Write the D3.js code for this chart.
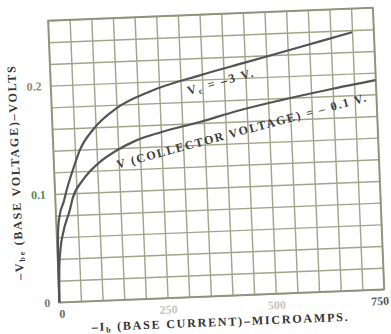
<!DOCTYPE html>
<html>
<head>
<meta charset="utf-8">
<script src="https://cdn.jsdelivr.net/npm/d3@7"></script>
<style>
  html, body { margin: 0; padding: 0; background: #fff; }
  svg { display: block; }
  text { font-family: "Liberation Serif", "DejaVu Serif", serif; font-weight: bold; }
</style>
</head>
<body>
<div id="chart"></div>
<script>
// base current (microamps) vs base voltage (volts), two collector voltages
const currentA = [0, 1, 4, 10, 19, 28, 44, 62, 94, 151, 229, 345, 450, 575, 700];
const voltsA   = [0, 0.03, 0.067, 0.082, 0.092, 0.104, 0.122, 0.140, 0.158, 0.177, 0.191, 0.204, 0.214, 0.226, 0.238];
const currentB = [0, 3, 8, 16, 33, 41, 66, 107, 147, 190, 250, 341, 430, 528, 640, 750];
const voltsB   = [0, 0.03, 0.05, 0.065, 0.085, 0.096, 0.112, 0.128, 0.138, 0.146, 0.153, 0.161, 0.170, 0.178, 0.186, 0.193];

const xTickValues = [0, 250, 500, 750];
const xTickLabels = ['0', '250', '500', '750'];
const yTickValues = [0, 0.1, 0.2];
const yTickLabels = ['0', '0.1', '0.2'];

const width = 391, height = 334;
const plotLeft = 53.5, plotTop = 14, plotW = 325, plotH = 282;

const svg = d3.select('#chart').append('svg')
  .attr('width', width)
  .attr('height', height);

// the scan is tilted a little, so everything sits in one rotated group
const g = svg.append('g')
  .attr('transform', 'rotate(-2.3,216,155)');

const x = d3.scaleLinear().domain([0, 750]).range([plotLeft, plotLeft + plotW]);
const y = d3.scaleLinear().domain([0, 0.26]).range([plotTop + plotH, plotTop]);

// grid
g.append('g')
  .attr('transform', `translate(0,${plotTop + plotH})`)
  .call(d3.axisBottom(x).tickValues(d3.range(0, 751, 50)).tickSize(-plotH).tickFormat(''))
  .call(s => s.select('.domain').remove())
  .selectAll('line').attr('stroke', '#a2a488').attr('stroke-width', 1.4);
g.append('g')
  .attr('transform', `translate(${plotLeft},0)`)
  .call(d3.axisLeft(y).tickValues(d3.range(0, 0.261, 0.02)).tickSize(-plotW).tickFormat(''))
  .call(s => s.select('.domain').remove())
  .selectAll('line').attr('stroke', '#a2a488').attr('stroke-width', 1.4);

g.append('rect')
  .attr('x', plotLeft).attr('y', plotTop)
  .attr('width', plotW).attr('height', plotH)
  .attr('fill', 'none')
  .attr('stroke', '#8f927a')
  .attr('stroke-width', 1.6);

// tick labels
const xAxis = g.append('g')
  .attr('transform', `translate(0,${plotTop + plotH})`)
  .call(d3.axisBottom(x).tickValues(xTickValues).tickSize(0).tickPadding(7)
    .tickFormat((d, i) => xTickLabels[i]));
xAxis.select('.domain').remove();
xAxis.selectAll('text')
  .attr('font-size', 12)
  .attr('font-family', '"Liberation Serif", serif')
  .attr('dx', (d, i) => i === 3 ? -5 : (i === 0 ? 2 : 0))
  .attr('fill', (d, i) => ['#666', '#c4c4c0', '#c4c4c0', '#555'][i]);

const yAxis = g.append('g')
  .attr('transform', `translate(${plotLeft},0)`)
  .call(d3.axisLeft(y).tickValues(yTickValues).tickSize(0).tickPadding(9)
    .tickFormat((d, i) => yTickLabels[i]));
yAxis.select('.domain').remove();
yAxis.selectAll('text')
  .attr('font-size', 12)
  .attr('font-family', '"Liberation Serif", serif')
  .attr('fill', (d, i) => ['#777', '#4f8a58', '#8a8c70'][i]);

// curves
const line = d3.line()
  .x(d => x(d[0]))
  .y(d => y(d[1]))
  .curve(d3.curveMonotoneX);

[[currentA, voltsA], [currentB, voltsB]].forEach(([xs, ys]) => {
  g.append('path')
    .datum(xs.map((v, i) => [v, ys[i]]))
    .attr('d', line)
    .attr('fill', 'none')
    .attr('stroke', '#545454')
    .attr('stroke-width', 2.2);
});

// curve labels
const la = g.append('text')
  .attr('transform', 'translate(224,86) rotate(-13.3)')
  .attr('text-anchor', 'middle')
  .attr('font-size', 12.5)
  .attr('fill', '#444')
  .attr('textLength', 68)
  .attr('lengthAdjust', 'spacing');
la.append('tspan').text('V');
la.append('tspan').attr('font-size', 8).attr('dy', 2).text('c');
la.append('tspan').attr('dy', -2).text(' = \u20133 V.');

g.append('text')
  .attr('transform', 'translate(243,136) rotate(-12.8)')
  .attr('text-anchor', 'middle')
  .attr('font-size', 12)
  .attr('fill', '#3a3a3a')
  .attr('textLength', 258)
  .attr('lengthAdjust', 'spacing')
  .text('V (COLLECTOR VOLTAGE) = \u2013 0.1 V.');

// axis titles
const xt = g.append('text')
  .attr('x', 213).attr('y', 326)
  .attr('text-anchor', 'middle')
  .attr('font-size', 12)
  .attr('fill', '#333')
  .attr('textLength', 256)
  .attr('lengthAdjust', 'spacing');
xt.append('tspan').text('\u2013I');
xt.append('tspan').attr('font-size', 8).attr('dy', 2).text('b');
xt.append('tspan').attr('dy', -2).text(' (BASE CURRENT)\u2013MICROAMPS.');

const yt = g.append('text')
  .attr('transform', 'translate(19,165) rotate(-90)')
  .attr('text-anchor', 'middle')
  .attr('font-size', 12)
  .attr('fill', '#333')
  .attr('textLength', 214)
  .attr('lengthAdjust', 'spacing');
yt.append('tspan').text('\u2013V');
yt.append('tspan').attr('font-size', 8).attr('dy', 2).text('be');
yt.append('tspan').attr('dy', -2).text(' (BASE VOLTAGE)\u2013VOLTS');
</script>
</body>
</html>
